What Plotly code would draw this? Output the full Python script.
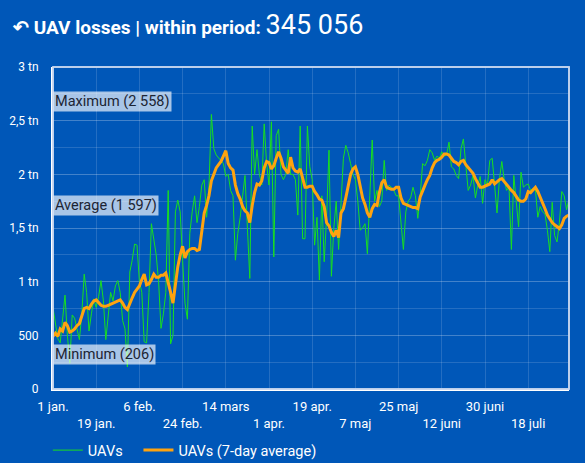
import pandas as pd
import plotly.graph_objects as go

# daily UAV losses, 1 jan. - 4 aug. 2025
uavs = [760, 600, 470, 430, 650, 875, 500, 240, 690, 660,
        560, 460, 700, 1070, 900, 540, 700, 840, 760, 860,
        1010, 820, 460, 700, 900, 820, 960, 1010, 900, 640,
        560, 206, 1090, 1200, 1350, 1340, 1000, 900, 440, 430,
        900, 1540, 1400, 1250, 1000, 565, 700, 900, 1850, 420,
        500, 1650, 1760, 1650, 1200, 800, 650, 1450, 1650, 1800,
        1550, 1700, 1900, 1950, 1600, 1900, 2558, 2240, 2180, 2150,
        2130, 2100, 1980, 2000, 1850, 1800, 1200, 1450, 1600, 1800,
        1990, 1500, 1030, 2450, 2000, 2230, 2000, 1900, 2470, 2100,
        1900, 2490, 1230, 2360, 2420, 2000, 1950, 2000, 2230, 2000,
        2000, 1950, 1620, 2450, 1400, 1400, 2450, 2070, 1950, 1340,
        1600, 1015, 1800, 1185, 1600, 2225, 1050, 1500, 1750, 1300,
        1800, 2150, 2270, 2200, 2100, 2000, 1950, 1750, 1480, 1500,
        1540, 1260, 1800, 2320, 1750, 1850, 1700, 1750, 2130, 1850,
        1900, 1880, 1850, 1800, 1800, 1550, 1300, 1650, 1750, 1780,
        1880, 1800, 1590, 1800, 2100, 2080, 2130, 2230, 2200, 2130,
        2170, 2150, 2210, 2170, 2180, 2300, 2070, 2050, 1990, 1960,
        2240, 2330, 2080, 1850, 1900, 1990, 1780, 1900, 1980, 1730,
        1950, 1900, 2130, 2150, 1900, 1640, 1950, 2120, 1950, 1850,
        1880, 1300, 1990, 1760, 1510, 2020, 1880, 1900, 1910, 1850,
        1870, 1860, 1600, 1700, 1650, 1630, 1480, 1280, 1740, 1430,
        1370, 1550, 1840, 1800, 1670, 1770]

uavs_7d = [490, 520, 490, 560, 540, 620, 590, 530, 540, 560,
           590, 610, 680, 750, 760, 750, 790, 820, 830, 800,
           780, 770, 770, 780, 790, 795, 805, 820, 830, 800,
           760, 740, 800, 850, 900, 930, 960, 1020, 1070, 970,
           980, 1020, 1070, 1040, 1040, 1060, 1060, 1080, 1000, 900,
           800, 1000, 1140, 1250, 1330, 1220, 1280, 1300, 1310, 1310,
           1290, 1300, 1500, 1640, 1710, 1800, 1940, 2010, 2060, 2090,
           2120, 2170, 2220, 2100, 2060, 2040, 1900, 1820, 1770, 1700,
           1660, 1640, 1550, 1710, 1830, 1910, 1900, 1940, 2060, 2120,
           2110, 2050, 2080, 2150, 2210, 2150, 2070, 2040, 2010, 2160,
           2060, 2030, 2020, 2050, 1950, 1880, 1880, 1890, 1890, 1840,
           1810, 1770, 1760, 1700, 1550, 1520, 1460, 1420, 1480, 1410,
           1640, 1680, 1780, 1900, 2000, 2050, 2070, 2000, 1880, 1780,
           1720, 1640, 1600, 1680, 1720, 1710, 1830, 1920, 1950, 1880,
           1870, 1860, 1860, 1880, 1880, 1780, 1730, 1720, 1710, 1700,
           1690, 1690, 1680, 1790, 1850, 1900, 1950, 1990, 2060, 2110,
           2130, 2140, 2160, 2190, 2190, 2180, 2150, 2120, 2110, 2090,
           2120, 2130, 2090, 2060, 2040, 2010, 1960, 1920, 1880, 1880,
           1890, 1900, 1910, 1950, 1910, 1930, 1950, 1960, 1930, 1900,
           1870, 1850, 1830, 1790, 1760, 1750, 1750, 1770, 1840, 1830,
           1860, 1880, 1840, 1790, 1740, 1680, 1620, 1580, 1550, 1530,
           1510, 1495, 1530, 1590, 1610, 1620]

max_value = 2558
avg_value = 1597
min_value = 206
total = "345 056"

tick_dates = ["2025-01-01", "2025-01-19", "2025-02-06", "2025-02-24", "2025-03-14", "2025-04-01",
              "2025-04-19", "2025-05-07", "2025-05-25", "2025-06-12", "2025-06-30", "2025-07-18"]
tick_labels = ["1 jan.", "19 jan.", "6 feb.", "24 feb.", "14 mars", "1 apr.",
               "19 apr.", "7 maj", "25 maj", "12 juni", "30 juni", "18 juli"]
y_ticks = [0, 500, 1000, 1500, 2000, 2500, 3000]
y_labels = ["0", "500", "1 tn", "1,5 tn", "2 tn", "2,5 tn", "3 tn"]

dates = pd.date_range("2025-01-01", periods=len(uavs), freq="D")

BG = "#0057b8"
FONT = "Roboto"
GRID = "rgba(255,255,255,0.14)"
NBSP = "\u00a0"

fig = go.Figure()
# trailing nbsp only widens the gap between the two legend entries
fig.add_trace(go.Scatter(x=dates, y=uavs, mode="lines", name="UAVs" + NBSP * 3,
                         line=dict(color="#19e01e", width=1)))
fig.add_trace(go.Scatter(x=dates, y=uavs_7d, mode="lines", name="UAVs (7-day average)",
                         line=dict(color="#ffa30f", width=3)))

# reference lines
fig.add_hline(y=max_value, line=dict(color="rgba(200,215,240,0.85)", width=2, dash="dash"))
fig.add_hline(y=avg_value, line=dict(color="white", width=2, dash="dot"))
fig.add_hline(y=min_value, line=dict(color="white", width=1.5, dash="dash"))

for val, txt in [(max_value, "Maximum (2 558)"), (avg_value, "Average (1 597)"), (min_value, "Minimum (206)")]:
    fig.add_annotation(x=0, xref="paper", xanchor="left", y=val, yref="y", yanchor="bottom",
                       yshift=2, text=txt, showarrow=False,
                       font=dict(family=FONT, size=14.5, color="#1c2433"),
                       bgcolor="rgba(255,255,255,0.66)", borderpad=1)

# title
fig.add_annotation(x=-0.083, xref="paper", xanchor="left", y=1.13, yref="paper", yanchor="middle",
                   showarrow=False,
                   text="<b>↶ UAV losses | within period:</b> <span style='font-size:27px'>" + total + "</span>",
                   font=dict(family=FONT, size=19, color="white"))

ticktext = [lab if i % 2 == 0 else "<br>" + lab for i, lab in enumerate(tick_labels)]

fig.update_layout(
    template="none",
    width=585, height=463,
    margin=dict(l=53, r=16, t=67, b=74, autoexpand=False),
    paper_bgcolor=BG, plot_bgcolor=BG,
    font=dict(family=FONT, size=12, color="white"),
    showlegend=True,
    legend=dict(orientation="h", x=-0.01, xanchor="left", y=-0.19, yanchor="middle",
                itemwidth=30,
                font=dict(family=FONT, size=14.5, color="white"), bgcolor="rgba(0,0,0,0)"),
    shapes=[dict(type="rect", xref="paper", yref="paper", x0=0, x1=1, y0=0, y1=1,
                 line=dict(color="rgba(200,215,240,0.8)", width=1.5, dash="solid"), layer="above")],
)
fig.update_xaxes(type="date", range=[dates[0], dates[-1]], tickvals=tick_dates, ticktext=ticktext,
                 tickangle=0, automargin=False, showgrid=True, gridcolor=GRID, gridwidth=1,
                 showline=True, linecolor="white", linewidth=2, ticks="", zeroline=False,
                 ticklabelstandoff=4,
                 tickfont=dict(family=FONT, size=13, color="white"))
fig.update_yaxes(range=[0, 3000], tickvals=y_ticks, ticktext=y_labels, automargin=False,
                 showgrid=True, gridcolor=GRID, gridwidth=1,
                 minor=dict(dtick=250, showgrid=True, gridcolor=GRID),
                 showline=True, linecolor="white", linewidth=2, ticks="", zeroline=False,
                 ticklabelstandoff=10,
                 tickfont=dict(family=FONT, size=12, color="white"))

# page default margin would shift the 585x463 figure
fig.write_html("out.html", config={"displayModeBar": False},
               post_script="document.body.style.margin='0px';")
